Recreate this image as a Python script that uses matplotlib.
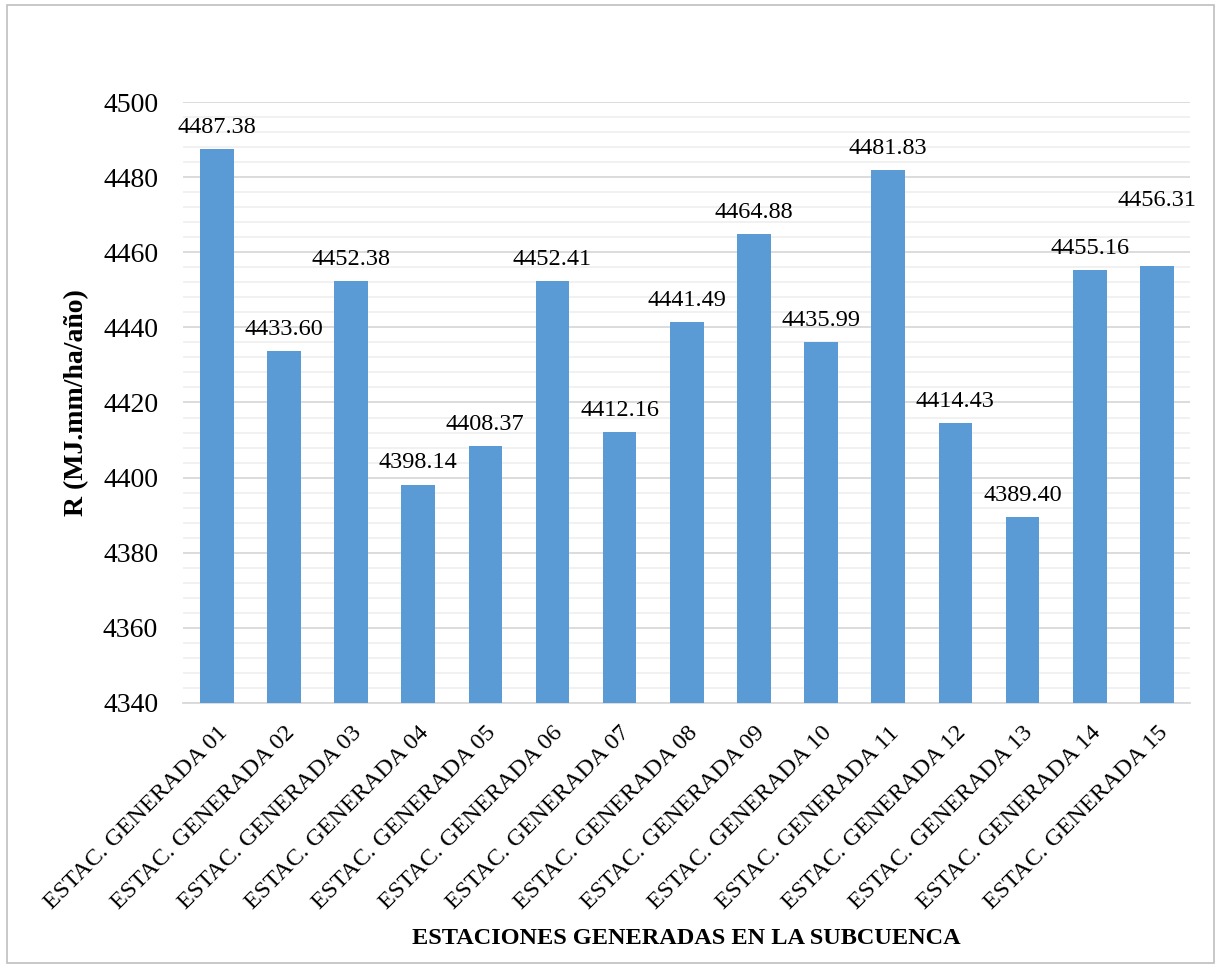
import numpy as np
import matplotlib.pyplot as plt
from matplotlib.patches import Rectangle
from matplotlib.ticker import MultipleLocator

plt.rcParams['font.family'] = ['Liberation Serif', 'DejaVu Serif']

estaciones = ["ESTAC. GENERADA %02d" % i for i in range(1, 16)]
valores = [4487.38, 4433.60, 4452.38, 4398.14, 4408.37, 4452.41, 4412.16, 4441.49,
           4464.88, 4435.99, 4481.83, 4414.43, 4389.40, 4455.16, 4456.31]

fig = plt.figure(figsize=(12.21, 9.68), dpi=100)
ax = fig.add_axes([0.150, 0.2738, 0.825, 0.6208])

# outer frame of the chart
fig.patches.append(Rectangle((0.006, 0.005), 0.988, 0.99, transform=fig.transFigure,
                             fill=False, edgecolor='#BFBFBF', linewidth=1.2))

x = np.arange(len(valores))
ax.bar(x, np.array(valores) - 4340, bottom=4340, width=0.5, color='#5B9BD5', zorder=3)

ax.set_xlim(-0.5, len(valores) - 0.5)
ax.set_ylim(4340, 4500)
ax.yaxis.set_major_locator(MultipleLocator(20))
ax.yaxis.set_minor_locator(MultipleLocator(4))
ax.grid(which='major', axis='y', color='#D9D9D9', linewidth=1.3, zorder=0)
ax.grid(which='minor', axis='y', color='#F0F0F0', linewidth=1.3, zorder=0)
for s in ['top', 'right', 'left']:
    ax.spines[s].set_visible(False)
ax.spines['bottom'].set_color('#D9D9D9')
ax.spines['bottom'].set_linewidth(1.3)
ax.tick_params(which='both', length=0)
ax.tick_params(axis='y', labelsize=20, pad=18)

ax.set_xticks(x)
ax.set_xticklabels(estaciones, rotation=45, ha='right', rotation_mode='anchor', fontsize=17.5)
ax.tick_params(axis='x', pad=14)

# data labels (the last one was dragged higher in the original)
extra = {14: 32}
for i, v in enumerate(valores):
    ax.annotate("%.2f" % v, (i, v), xytext=(0, 8 + extra.get(i, 0)),
                textcoords='offset points', ha='center', va='bottom', fontsize=17.5)

ax.set_ylabel("R (MJ.mm/ha/año)", fontsize=20, fontweight='bold', labelpad=10)
ax.set_xlabel("ESTACIONES GENERADAS EN LA SUBCUENCA", fontsize=17.5, fontweight='bold', labelpad=10)

fig.savefig("out.png", dpi=100)
